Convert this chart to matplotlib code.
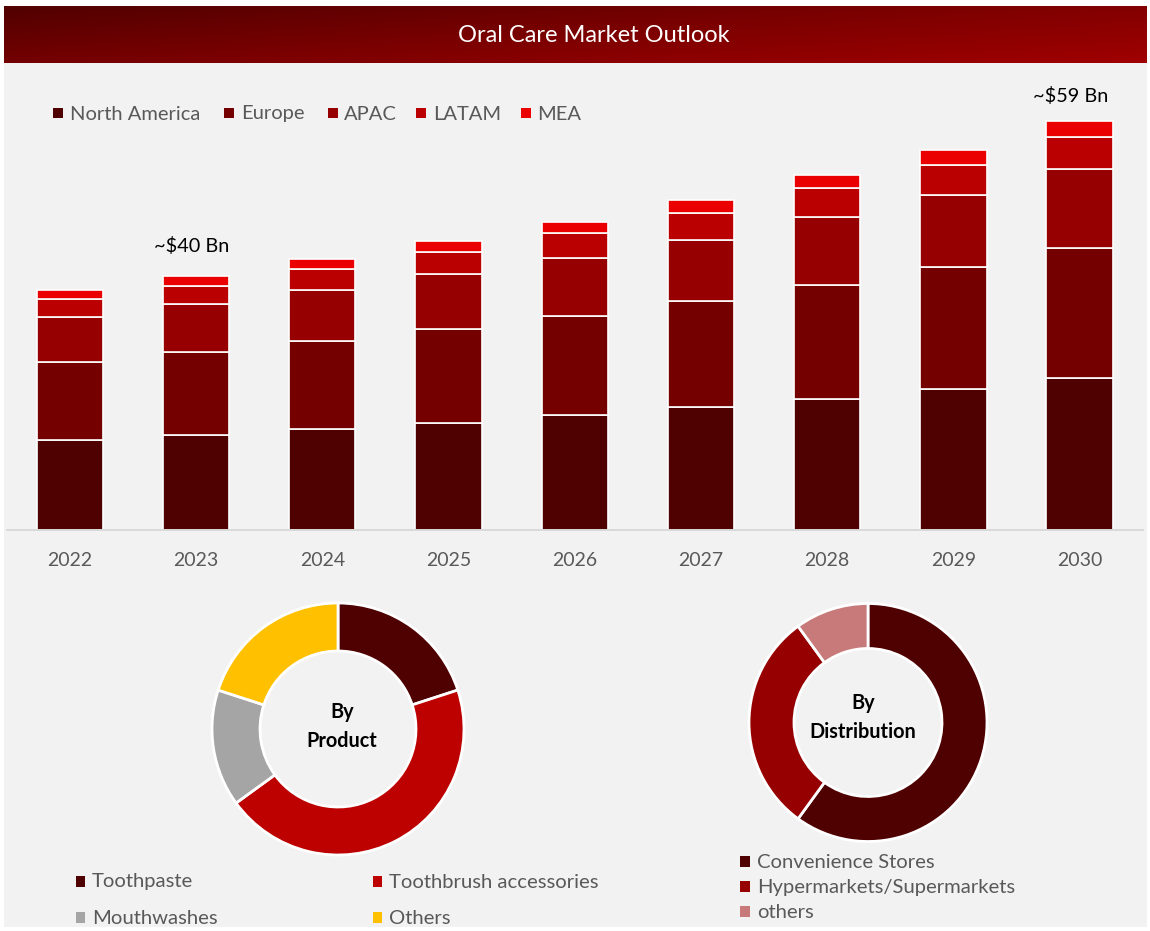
import numpy as np
import matplotlib
matplotlib.use("Agg")
import matplotlib.pyplot as plt
from matplotlib.colors import LinearSegmentedColormap
from matplotlib.patches import Rectangle

plt.rcParams['font.family'] = ['Lato', 'DejaVu Sans']

title = "Oral Care Market Outlook"
years = ['2022', '2023', '2024', '2025', '2026', '2027', '2028', '2029', '2030']
regions = ['North America', 'Europe', 'APAC', 'LATAM', 'MEA']
north_america = [13.0, 13.7, 14.6, 15.4, 16.6, 17.7, 18.9, 20.3, 21.9]
europe = [11.3, 12.0, 12.7, 13.6, 14.3, 15.3, 16.5, 17.6, 18.8]
apac = [6.5, 6.9, 7.4, 7.9, 8.4, 8.9, 9.7, 10.4, 11.4]
latam = [2.5, 2.6, 3.0, 3.2, 3.5, 3.9, 4.2, 4.3, 4.6]
mea = [1.3, 1.4, 1.4, 1.6, 1.7, 1.8, 1.9, 2.3, 2.3]
region_colors = ['#4F0000', '#750000', '#960000', '#BA0000', '#EA0000']

products = ['Toothpaste', 'Toothbrush accessories', 'Mouthwashes', 'Others']
product_share = [20, 45, 15, 20]
product_colors = ['#4F0000', '#BD0000', '#A5A5A5', '#FFC000']

channels = ['Convenience Stores', 'Hypermarkets/Supermarkets', 'others']
channel_share = [60, 30, 10]
channel_colors = ['#4F0000', '#960000', '#C87A7A']

W, H = 1150, 931
fig = plt.figure(figsize=(W / 100, H / 100), dpi=100, facecolor='white')


def px_axes(x0, y0, x1, y1, **kw):
    return fig.add_axes([x0 / W, 1 - y1 / H, (x1 - x0) / W, (y1 - y0) / H], **kw)


# full-figure pixel overlay
bg = px_axes(0, 0, W, H)
bg.axis('off')
bg.add_patch(Rectangle((4, 63), 1143, 864, fc='#F2F2F2', ec='none'))
cmap = LinearSegmentedColormap.from_list('hdr', ['#520000', '#7C0000', '#A00000'])
gx, gy = np.meshgrid(np.linspace(0, 1, 300), np.linspace(0, 1, 40))
bg.imshow(0.6 * gx + 0.4 * gy, extent=(4, 1147, 63, 6), cmap=cmap, aspect='auto', vmin=0, vmax=1)
bg.set_xlim(0, W)
bg.set_ylim(H, 0)
bg.text(593.5, 35.5, title, color='white', fontsize=17, ha='center', va='center')

# stacked bars
ax = px_axes(6.7, 100, 1142.7, 530)
ax.patch.set_alpha(0)
x = np.arange(len(years))
bottom = np.zeros(len(years))
for vals, c in zip([north_america, europe, apac, latam, mea], region_colors):
    ax.bar(x, vals, 0.526, bottom=bottom, color=c, edgecolor='white', linewidth=1.2)
    bottom += np.array(vals)
ax.set_xlim(-0.5, 8.5)
ax.set_ylim(0, 430 / 6.93)
ax.set_yticks([])
ax.set_xticks(x, years, fontsize=14, color='#595959')
ax.tick_params(axis='x', length=0, pad=15.5)
for s in ['top', 'left', 'right']:
    ax.spines[s].set_visible(False)
ax.spines['bottom'].set_color('#D4D4D4')
ax.spines['bottom'].set_linewidth(1.2)

bg.text(192, 245.5, '~$40 Bn', fontsize=14.3, color='black', ha='center', va='center')
bg.text(1071, 96.5, '~$59 Bn', fontsize=14.3, color='black', ha='center', va='center')

# top legend
for lx, tx, name, c in zip([53, 224, 328, 416, 521], [70, 241, 344, 433, 537], regions, region_colors):
    bg.add_patch(Rectangle((lx, 108), 10, 10, fc=c, ec='none'))
    bg.text(tx, 114, name, fontsize=14.5, color='#595959', ha='left', va='center')


# donuts
def donut(cx, cy, r, hole, vals, cols):
    a = px_axes(cx - r - 3, cy - r - 3, cx + r + 3, cy + r + 3)
    a.pie(vals, colors=cols, startangle=90, counterclock=False, radius=r,
          wedgeprops=dict(width=r - hole, edgecolor='white', linewidth=2))
    a.set_xlim(-r - 3, r + 3)
    a.set_ylim(-r - 3, r + 3)
    a.set_aspect('equal')
    a.axis('off')


donut(338, 729, 126, 78, product_share, product_colors)
donut(868, 722.5, 119, 74, channel_share, channel_colors)

bg.text(342, 726.5, 'By\nProduct', fontsize=14.3, fontweight='bold', ha='center', va='center', linespacing=1.55)
bg.text(863, 717.5, 'By\nDistribution', fontsize=14.3, fontweight='bold', ha='center', va='center', linespacing=1.55)

# bottom legends
for lx, ly, tly, name, c in zip([76, 373, 76, 373], [881, 881, 917, 917], [882, 882, 919, 919], products, product_colors):
    bg.add_patch(Rectangle((lx, ly - 5), 9, 11, fc=c, ec='none'))
    bg.text(lx + 16, tly, name, fontsize=14.6, color='#595959', ha='left', va='center')
for ly, name, c in zip([861, 886, 911], channels, channel_colors):
    bg.add_patch(Rectangle((740, ly - 5), 10, 11, fc=c, ec='none'))
    bg.text(757, ly + 1, name, fontsize=14.6, color='#595959', ha='left', va='center')

fig.savefig('out.png', dpi=100, facecolor='white')
